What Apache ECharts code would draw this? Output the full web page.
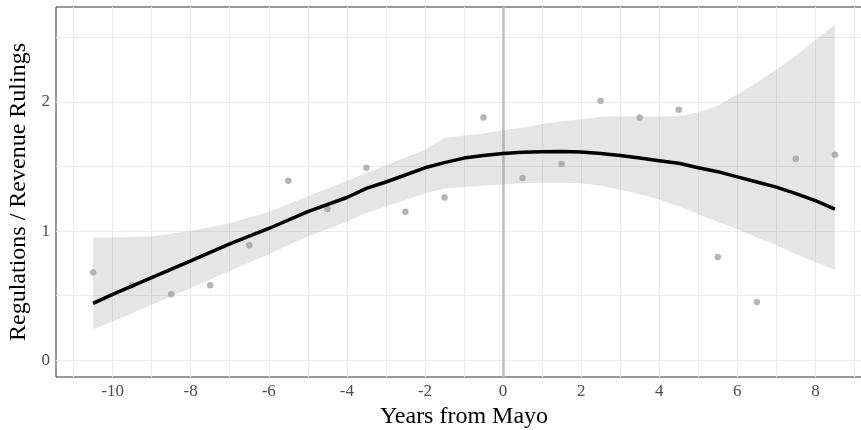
<!DOCTYPE html>
<html>
<head>
<meta charset="utf-8">
<script src="https://cdn.jsdelivr.net/npm/echarts@6/dist/echarts.min.js"></script>
<style>
	html, body { margin: 0; padding: 0; background: #fff; }
	#chart { width: 861px; height: 430px; }
</style>
</head>
<body>
<div id="chart"></div>
<script>
	// observed yearly ratios
	var pointX = [-10.5, -9.5, -8.5, -7.5, -6.5, -5.5, -4.5, -3.5, -2.5, -1.5, -0.5, 0.5, 1.5, 2.5, 3.5, 4.5, 5.5, 6.5, 7.5, 8.5];
	var pointY = [0.68, 0.58, 0.51, 0.58, 0.89, 1.39, 1.17, 1.49, 1.15, 1.26, 1.88, 1.41, 1.52, 2.01, 1.88, 1.94, 0.80, 0.45, 1.56, 1.59];

	// smooth fit and its band
	var fitX = [-10.5, -10, -9, -8, -7, -6, -5, -4, -3.5, -3, -2, -1.5, -1, -0.5, 0, 0.5, 1, 1.5, 2, 2.5, 3, 3.5, 4, 4.5, 5, 5.5, 6, 6.5, 7, 7.5, 8, 8.5];
	var fitY = [0.44, 0.51, 0.64, 0.77, 0.90, 1.02, 1.15, 1.26, 1.33, 1.38, 1.49, 1.53, 1.565, 1.585, 1.60, 1.61, 1.615, 1.617, 1.613, 1.60, 1.585, 1.565, 1.545, 1.525, 1.49, 1.46, 1.42, 1.38, 1.34, 1.29, 1.235, 1.17];
	var bandUpper = [0.95, 0.95, 0.96, 1.00, 1.06, 1.15, 1.27, 1.39, 1.45, 1.51, 1.63, 1.72, 1.74, 1.755, 1.78, 1.80, 1.83, 1.85, 1.865, 1.885, 1.89, 1.887, 1.887, 1.89, 1.92, 1.97, 2.06, 2.15, 2.25, 2.36, 2.48, 2.60];
	var bandLower = [0.24, 0.30, 0.43, 0.56, 0.69, 0.82, 0.96, 1.07, 1.14, 1.19, 1.29, 1.33, 1.34, 1.35, 1.36, 1.37, 1.375, 1.375, 1.37, 1.35, 1.32, 1.285, 1.245, 1.19, 1.13, 1.07, 1.015, 0.95, 0.89, 0.82, 0.76, 0.70];

	// ticks and grid
	var xTicks = [-10, -8, -6, -4, -2, 0, 2, 4, 6, 8];
	var yTicks = [0, 1, 2];
	var xGrid = [-11, -10, -9, -8, -7, -6, -5, -4, -3, -2, -1, 0, 1, 2, 3, 4, 5, 6, 7, 8, 9];
	var yGrid = [0, 0.5, 1, 1.5, 2, 2.5];

	var font = '"Liberation Serif", "DejaVu Serif", serif';
	var chart = echarts.init(document.getElementById('chart'));

	var gridLines = [];
	xGrid.forEach(function (v) { gridLines.push({ xAxis: v }); });
	yGrid.forEach(function (v) { gridLines.push({ yAxis: v }); });

	function pairs(xs, ys) {
		return xs.map(function (x, i) { return [x, ys[i]]; });
	}

	// band polygon: upper edge forwards, lower edge backwards
	function renderBand(params, api) {
		var pts = [];
		for (var i = 0; i < fitX.length; i++) {
			pts.push(api.coord([fitX[i], bandUpper[i]]));
		}
		for (var j = fitX.length - 1; j >= 0; j--) {
			pts.push(api.coord([fitX[j], bandLower[j]]));
		}
		return {
			type: 'polygon',
			shape: { points: pts },
			style: { fill: 'rgba(153,153,153,0.25)' }
		};
	}

	chart.setOption({
		animation: false,
		grid: {
			left: 56, top: 7, bottom: 53, right: -11,
			containLabel: false, outerBoundsMode: 'none',
			show: true, borderColor: '#333333', borderWidth: 1, backgroundColor: '#fff'
		},
		xAxis: {
			type: 'value', min: -11.45, max: 9.45,
			name: 'Years from Mayo', nameLocation: 'middle', nameGap: 18,
			nameTextStyle: { fontFamily: font, fontSize: 24, color: '#000' },
			axisLine: { show: false },
			axisTick: { show: true, customValues: xTicks, length: 4, lineStyle: { color: '#333333' } },
			axisLabel: { customValues: xTicks, fontFamily: font, fontSize: 17, color: '#4D4D4D', margin: 6 },
			splitLine: { show: false }
		},
		yAxis: {
			type: 'value', min: -0.13, max: 2.735,
			name: 'Regulations / Revenue Rulings', nameLocation: 'middle', nameGap: 19,
			nameTextStyle: { fontFamily: font, fontSize: 24, color: '#000' },
			axisLine: { show: false },
			axisTick: { show: true, customValues: yTicks, length: 4, lineStyle: { color: '#333333' } },
			axisLabel: { customValues: yTicks, fontFamily: font, fontSize: 17, color: '#4D4D4D', margin: 6 },
			splitLine: { show: false }
		},
		series: [
			{
				name: 'grid', type: 'line', data: [], z: 1, silent: true,
				markLine: {
					z: 1, silent: true, symbol: 'none', label: { show: false },
					lineStyle: { color: '#EBEBEB', width: 1, type: 'solid' },
					data: gridLines
				}
			},
			{
				name: 'mayo', type: 'line', data: [], z: 1, silent: true,
				markLine: {
					z: 1, silent: true, symbol: 'none', label: { show: false },
					lineStyle: { color: '#BEBEBE', width: 2.5, type: 'solid' },
					data: [{ xAxis: 0 }]
				}
			},
			{
				name: 'band', type: 'custom', z: 2, silent: true,
				renderItem: renderBand,
				data: [0]
			},
			{
				name: 'points', type: 'scatter', z: 3, symbolSize: 6.5,
				itemStyle: { color: '#A3A3A3' },
				data: pairs(pointX, pointY)
			},
			{
				name: 'fit', type: 'line', symbol: 'none', z: 4,
				lineStyle: { color: '#000', width: 3.5 },
				data: pairs(fitX, fitY)
			}
		]
	});
</script>
</body>
</html>
